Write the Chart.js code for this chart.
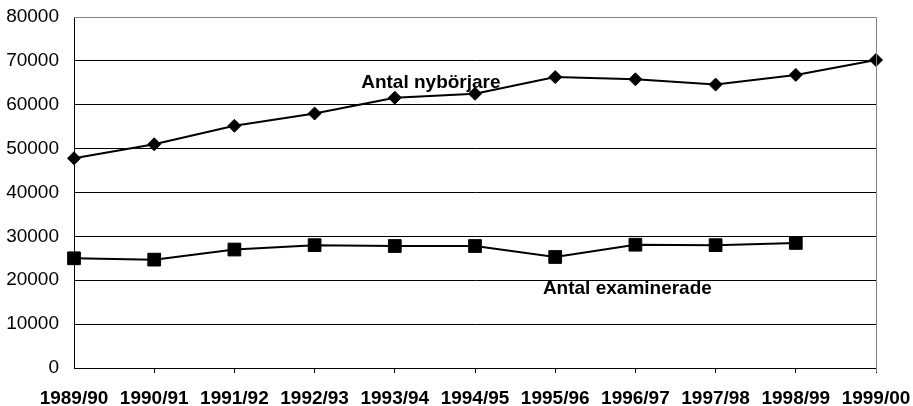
<!DOCTYPE html>
<html>
<head>
<meta charset="utf-8">
<script src="https://cdn.jsdelivr.net/npm/chart.js@4/dist/chart.umd.min.js"></script>
<style>
  html, body { margin: 0; padding: 0; background: #fff; }
  #wrap { width: 913px; height: 406px; }
</style>
</head>
<body>
<div id="wrap"><canvas id="studentChart"></canvas></div>
<script>
const years = ["1989/90", "1990/91", "1991/92", "1992/93", "1993/94", "1994/95",
  "1995/96", "1996/97", "1997/98", "1998/99", "1999/00"];
const nyborjare = [47800, 51000, 55200, 58000, 61600, 62500, 66300, 65800, 64600, 66800, 70200];
const examinerade = [25000, 24700, 27000, 28000, 27800, 27800, 25300, 28100, 28000, 28500, null];
const yTicks = [0, 10000, 20000, 30000, 40000, 50000, 60000, 70000, 80000];

// series names written next to their lines: [text, x index, y value]
const seriesLabels = [
  ["Antal nybörjare", 4.45, 65100],
  ["Antal examinerade", 6.9, 18000],
];

const fontFamily = "Arial, 'Liberation Sans', sans-serif";

const frame = {
  id: "frame",
  afterDraw(chart) {
    const { ctx, chartArea: a } = chart;
    ctx.save();
    ctx.strokeStyle = "#808080";
    ctx.lineWidth = 1;
    ctx.beginPath();
    ctx.moveTo(a.left, a.top + 0.5);
    ctx.lineTo(a.right + 0.5, a.top + 0.5);
    ctx.lineTo(a.right + 0.5, a.bottom + 4);
    ctx.stroke();
    ctx.restore();
  },
  afterDatasetsDraw(chart) {
    const { ctx, scales } = chart;
    ctx.save();
    ctx.font = "bold 19px " + fontFamily;
    ctx.fillStyle = "#000";
    ctx.textAlign = "center";
    ctx.textBaseline = "middle";
    seriesLabels.forEach(([text, xi, yv]) => {
      ctx.fillText(text, scales.x.getPixelForValue(xi), scales.y.getPixelForValue(yv));
    });
    ctx.restore();
  },
};

new Chart(document.getElementById("studentChart").getContext("2d"), {
  type: "line",
  data: {
    labels: years,
    datasets: [
      {
        label: "Antal nybörjare",
        data: nyborjare,
        borderColor: "#000",
        borderWidth: 2,
        backgroundColor: "#000",
        pointStyle: "rectRot",
        pointRadius: 6.5,
        pointBorderWidth: 1,
        tension: 0,
      },
      {
        label: "Antal examinerade",
        data: examinerade,
        borderColor: "#000",
        borderWidth: 2,
        backgroundColor: "#000",
        pointStyle: "rect",
        pointRadius: 9,
        pointBorderWidth: 1,
        tension: 0,
      },
    ],
  },
  options: {
    responsive: true,
    maintainAspectRatio: false,
    animation: false,
    layout: { padding: { top: 17, right: 37, bottom: 0, left: 0 } },
    plugins: {
      legend: { display: false },
      tooltip: { enabled: false },
    },
    scales: {
      x: {
        offset: false,
        afterFit: (s) => {
          s.height = 38;
          s.paddingLeft = 0;
          s.paddingRight = 0;
        },
        grid: {
          drawOnChartArea: false,
          drawTicks: true,
          tickLength: 5,
          color: (c) => (c.index === 0 ? "rgba(0,0,0,0)" : "#000"),
        },
        border: { color: "#000", width: 1 },
        ticks: {
          color: "#000",
          padding: 14,
          maxRotation: 0,
          autoSkip: false,
          font: { family: fontFamily, size: 19, weight: "bold" },
        },
      },
      y: {
        min: 0,
        max: 80000,
        afterFit: (s) => {
          s.width = 74;
          s.paddingTop = 0;
          s.paddingBottom = 0;
        },
        afterBuildTicks: (s) => { s.ticks = yTicks.map((v) => ({ value: v })); },
        grid: {
          drawTicks: false,
          color: (c) => (c.tick && c.tick.value === 80000 ? "#808080" : "#000"),
        },
        border: { color: "#000", width: 1 },
        ticks: {
          color: "#000",
          padding: 15,
          font: { family: fontFamily, size: 19 },
          callback: (v) => String(v),
        },
      },
    },
  },
  plugins: [frame],
});
</script>
</body>
</html>
